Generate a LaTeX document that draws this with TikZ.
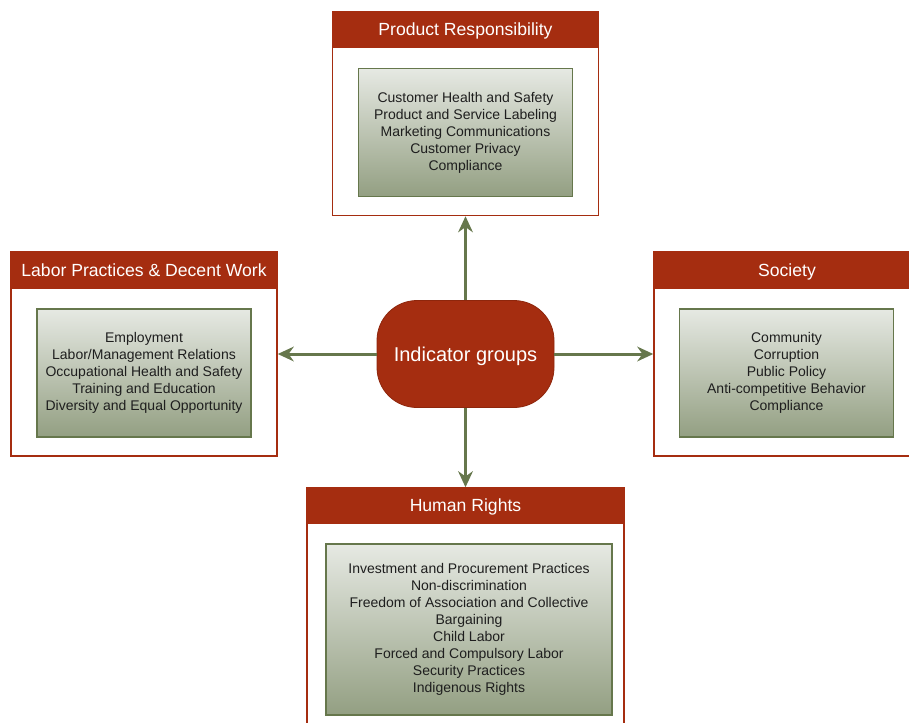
\documentclass[tikz,border=0pt]{standalone}
\usepackage{fontspec}
\setmainfont{Liberation Sans}
\usetikzlibrary{arrows.meta,positioning}

\definecolor{rust}{HTML}{A52D10}
\definecolor{rustdark}{HTML}{8E260C}
\definecolor{moss}{HTML}{66774C}
\definecolor{gtop}{HTML}{E6E9E3}
\definecolor{gbot}{HTML}{939F82}
\definecolor{ink}{HTML}{1E1E1E}

\begin{document}
\begin{tikzpicture}[
            x=0.75pt, y=-0.75pt,
            group/.style={rectangle, draw=rust, line width=1.1pt, fill=white, minimum width=199.5pt, minimum height=153pt, inner sep=0pt},
            header/.style={rectangle, fill=rust, text=white, font=\fontsize{13.2}{16}\selectfont, text depth=0pt, minimum width=199.5pt, minimum height=27.75pt, inner sep=0pt, anchor=north},
            items/.style={rectangle, draw=moss, line width=1.4pt, top color=gtop, bottom color=gbot, minimum width=160.5pt, minimum height=96pt, align=center, text=ink, font=\fontsize{10.5}{12.75}\selectfont},
            hubnode/.style={rectangle, rounded corners=30pt, fill=rust, draw=rustdark, line width=0.6pt, text=white, text depth=0pt, minimum width=132.75pt, minimum height=80.25pt, font=\fontsize{15}{18}\selectfont},
            arrow/.style={-{Stealth[length=12pt,width=11pt]}, line width=2.25pt, moss}
        ]
        \clip (0,0) rectangle (909,722);

        % Indicator groups
        \node[group] (prod) at (465.5,113.5) {};
        \node[header] (prodhead) at (prod.north) {Product Responsibility};
        \node[items] (proditems) at (465.5,132.5) {Customer Health and Safety\\Product and Service Labeling\\Marketing Communications\\Customer Privacy\\Compliance};

        \node[group] (labor) at (144,354) {};
        \node[header] (laborhead) at (labor.north) {Labor Practices \& Decent Work};
        \node[items] (laboritems) at (144,373) {Employment\\Labor/Management Relations\\Occupational Health and Safety\\Training and Education\\Diversity and Equal Opportunity};

        \node[group] (society) at (787,354) {};
        \node[header] (societyhead) at (society.north) {Society};
        \node[items] (societyitems) at (786.5,373) {Community\\Corruption\\Public Policy\\Anti-competitive Behavior\\Compliance};

        \node[group, minimum width=237.75pt, minimum height=225pt] (rights) at (465.5,638) {};
        \node[header, minimum width=237.75pt, minimum height=27pt] (rightshead) at (rights.north) {Human Rights};
        \node[items, minimum width=214.5pt, minimum height=128.25pt] (rightsitems) at (469,629.5) {Investment and Procurement Practices\\Non-discrimination\\Freedom of Association and Collective\\Bargaining\\Child Labor\\Forced and Compulsory Labor\\Security Practices\\Indigenous Rights};

        % Central node
        \node[hubnode] (hub) at (465.5,354) {Indicator groups};

        % Arrows to the groups
        \draw[arrow] (hub) -- (prod);
        \draw[arrow] (hub) -- (labor);
        \draw[arrow] (hub) -- (society);
        \draw[arrow] (hub) -- (rights);

    \end{tikzpicture}
\end{document}
